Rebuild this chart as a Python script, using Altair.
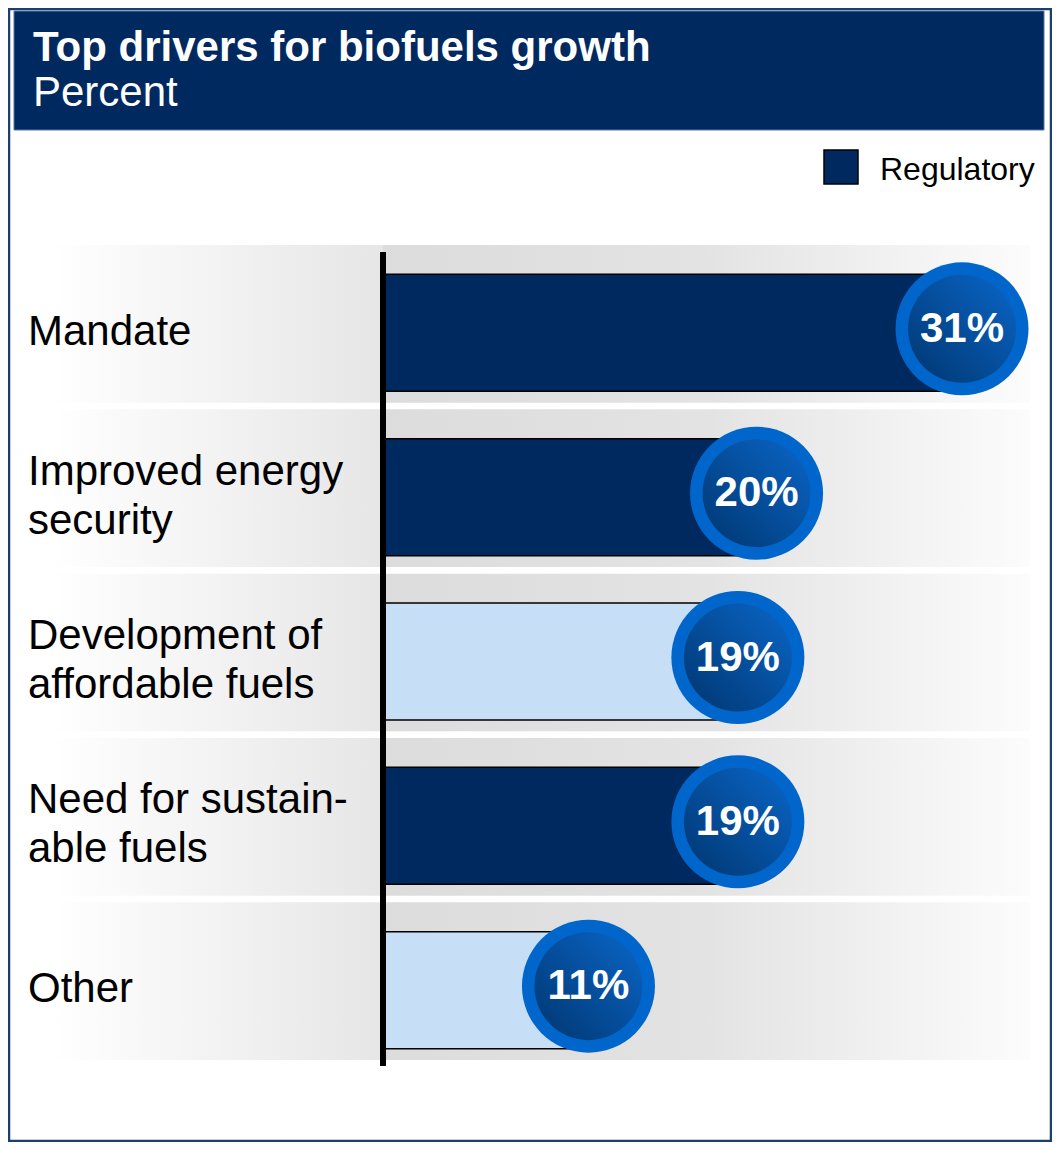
import altair as alt
import pandas as pd

# ---------------- data ----------------
categories = [
    "Mandate",
    "Improved energy\nsecurity",
    "Development of\naffordable fuels",
    "Need for sustain-\nable fuels",
    "Other",
]
values = [31, 20, 19, 19, 11]
driver_type = ["Regulatory", "Regulatory", "Other", "Regulatory", "Other"]
value_labels = [f"{v}%" for v in values]

title_main = "Top drivers for biofuels growth"
title_sub = "Percent"
legend_label = "Regulatory"

df = pd.DataFrame({"cat": categories, "value": values, "type": driver_type, "label": value_labels})
one = pd.DataFrame({"k": [0]})

# ---------------- style ----------------
FONT = "Liberation Sans"
NAVY = "#002960"
LIGHT = "#c6dff7"
RING = "#0066cc"
BORDER = "#1c3f72"
LINE_H = 49

W, H = 647, 815
PAD = {"left": 375, "top": 237, "right": 22, "bottom": 82}

yenc = alt.Y("cat:N", sort=categories,
             scale=alt.Scale(paddingInner=0.04, paddingOuter=0), axis=None)
xenc = alt.X("value:Q", scale=alt.Scale(domain=[0, 34.64], nice=False, zero=True), axis=None)

def lin(stops, x1=0, y1=0, x2=1, y2=0):
    return alt.LinearGradient(
        gradient="linear",
        stops=[alt.GradientStop(color=c, offset=o) for o, c in stops],
        x1=x1, y1=y1, x2=x2, y2=y2,
    )

deco = alt.Chart(one)
base = alt.Chart(df)

# outer frame
frame = deco.mark_rect(fill="white", stroke=BORDER, strokeWidth=2.5).encode(
    x=alt.value(-374), x2=alt.value(668), y=alt.value(-236), y2=alt.value(896))

# title box
title_box = deco.mark_rect(fill=NAVY, stroke="#5a74a0", strokeWidth=1).encode(
    x=alt.value(-369), x2=alt.value(661), y=alt.value(-234), y2=alt.value(-115))
title1 = deco.mark_text(align="left", baseline="alphabetic", font=FONT, fontSize=42,
                        fontWeight="bold", color="white").encode(
    x=alt.value(-350), y=alt.value(-184), text=alt.value(title_main))
title2 = deco.mark_text(align="left", baseline="alphabetic", font=FONT, fontSize=42,
                        color="white").encode(
    x=alt.value(-350), y=alt.value(-139), text=alt.value(title_sub))

# legend
leg_sq = deco.mark_square(size=1156, fill=NAVY, stroke="black", strokeWidth=1.5, opacity=1).encode(
    x=alt.value(458), y=alt.value(-78))
leg_tx = deco.mark_text(align="left", baseline="middle", font=FONT, fontSize=32, color="black").encode(
    x=alt.value(497), y=alt.value(-75), text=alt.value(legend_label))

# row background bands
left_band = base.mark_rect(fill=lin([(0, "#ffffff"), (1, "#e6e6e6")])).encode(
    y=yenc, x=alt.value(-333), x2=alt.value(0))
right_band = base.mark_rect(fill=lin([(0, "#dcdcdc"), (0.5, "#e3e3e3"), (1, "#fcfcfc")])).encode(
    y=yenc, x=alt.value(0), x2=alt.value(W))

# category labels (single-line and two-line rows, each block centred on the bar)
label_style = dict(align="left", baseline="middle", font=FONT, fontSize=42,
                   lineBreak="\n", lineHeight=LINE_H, color="black")
labels_1 = base.transform_filter("indexof(datum.cat, '\\n') < 0").mark_text(
    yOffset=8, **label_style).encode(y=yenc, x=alt.value(-355), text="cat:N")
labels_2 = base.transform_filter("indexof(datum.cat, '\\n') >= 0").mark_text(
    yOffset=8 - LINE_H / 2, **label_style).encode(y=yenc, x=alt.value(-355), text="cat:N")

# bars
bars = base.mark_bar(height=117, yOffset=9, stroke="black", strokeWidth=1.5).encode(
    y=yenc, x=xenc,
    color=alt.Color("type:N", scale=alt.Scale(domain=["Regulatory", "Other"], range=[NAVY, LIGHT]),
                    legend=None))

# axis line
axis_line = deco.mark_rule(color="black", strokeWidth=6).encode(
    x=alt.value(0), y=alt.value(7), y2=alt.value(821))

# value bubbles
ring = base.mark_point(shape="circle", filled=True, size=17689, color=RING, opacity=1,
                       strokeWidth=0, yOffset=5).encode(x=xenc, y=yenc)
inner = base.mark_point(shape="circle", filled=True, size=11664,
                        fill=lin([(0, "#003670"), (1, "#0a66c8")], x1=0, y1=1, x2=1, y2=0),
                        opacity=1, strokeWidth=0, yOffset=5).encode(x=xenc, y=yenc)
bubble_txt = base.mark_text(align="center", baseline="middle", font=FONT, fontSize=42,
                            fontWeight="bold", color="white", yOffset=5).encode(
    x=xenc, y=yenc, text="label:N")

chart = alt.layer(
    frame, title_box, title1, title2, leg_sq, leg_tx,
    left_band, right_band, labels_1, labels_2, bars, axis_line, ring, inner, bubble_txt,
).properties(
    width=W, height=H, padding=PAD,
    autosize=alt.AutoSizeParams(type="none"),
).configure_view(stroke=None).configure(background="white")

chart.save("out.html", embed_options={"renderer": "svg", "actions": False})
